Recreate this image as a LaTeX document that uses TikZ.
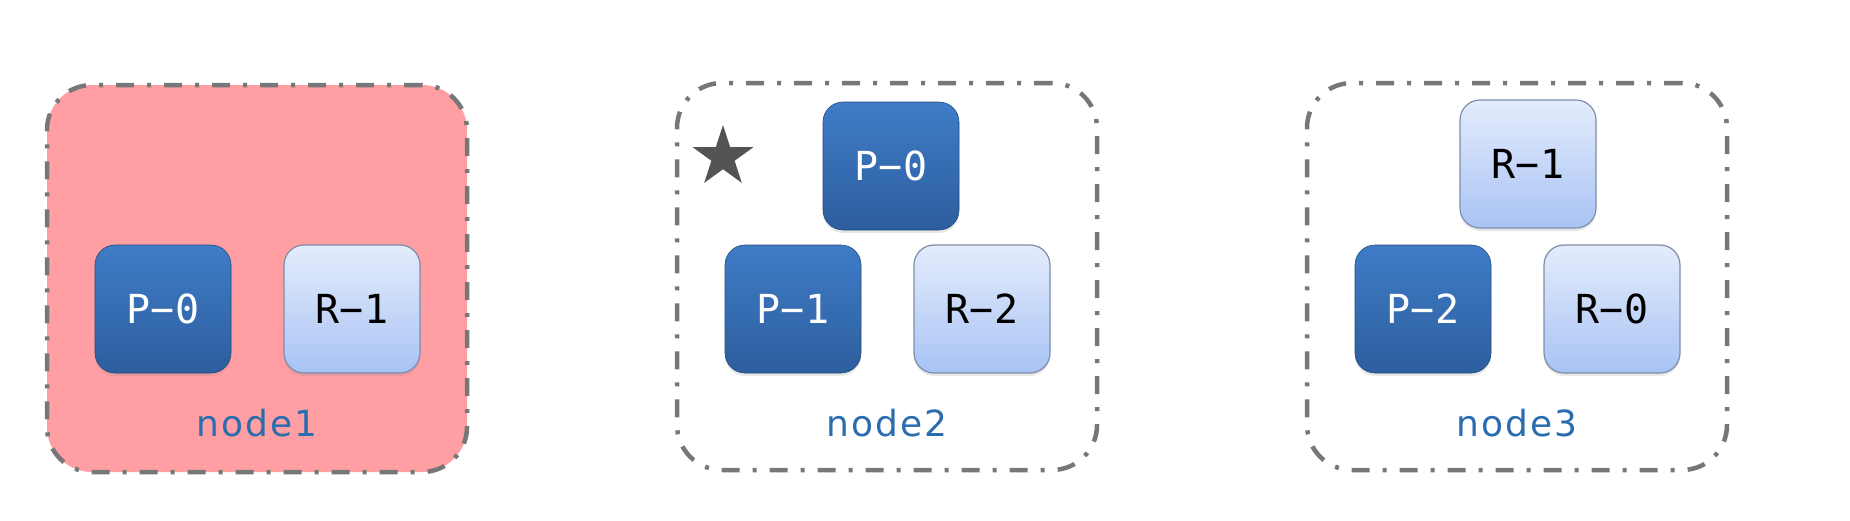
\documentclass[tikz,border=0pt]{standalone}
\usepackage{fontspec}
\setmainfont{DejaVu Sans}
\newfontfamily\boxmono{DejaVu Sans Mono}
\newfontfamily\hostfont[LetterSpace=6]{DejaVu Sans}
\usetikzlibrary{shapes.geometric,shadows}
\definecolor{pinkfill}{HTML}{FF9EA3}
\definecolor{dashgray}{HTML}{777777}
\definecolor{darktop}{HTML}{3F7CC7}
\definecolor{darkbot}{HTML}{2D5E9E}
\definecolor{lighttop}{HTML}{E4ECFC}
\definecolor{lightbot}{HTML}{A8C3F4}
\definecolor{lightedge}{HTML}{7D8DAA}
\definecolor{labelblue}{HTML}{2A6DAF}
\definecolor{stargray}{HTML}{545454}
\tikzset{
  container/.style={draw=dashgray, line width=4.5pt,
    dash pattern=on 18pt off 13pt on 4pt off 13pt,
    rounded corners=45pt, minimum width=420pt, minimum height=387pt,
    inner sep=0pt},
  primary/.style={rounded corners=20pt, minimum width=136pt, minimum height=128pt,
    inner sep=0pt, top color=darktop, bottom color=darkbot,
    draw=darkbot!80!black, line width=0.6pt,
    drop shadow={opacity=0.18, shadow xshift=0pt, shadow yshift=-3pt},
    font=\boxmono\fontsize{40}{40}\selectfont, text=white},
  replica/.style={rounded corners=20pt, minimum width=136pt, minimum height=128pt,
    inner sep=0pt, top color=lighttop, bottom color=lightbot,
    draw=lightedge, line width=1.2pt,
    drop shadow={opacity=0.18, shadow xshift=0pt, shadow yshift=-3pt},
    font=\boxmono\fontsize{40}{40}\selectfont, text=black},
  hostlabel/.style={font=\hostfont\fontsize{36}{36}\selectfont, text=labelblue, inner sep=0pt},
  leader/.style={star, star points=5, star point ratio=2.618, fill=stargray,
    minimum size=64pt, inner sep=0pt}
}
\begin{document}
\begin{tikzpicture}[x=1pt,y=-1pt]
\useasboundingbox (0,0) rectangle (1850,520);
% node1
\node[container, fill=pinkfill] (c1) at (257,278.5) {};
\node[primary] (n1p0) at (163,309) {P−0};
\node[replica] (n1r1) at (352,309) {R−1};
\node[hostlabel] (l1) at (257,423) {node1};
% node2
\node[container] (c2) at (887,276.5) {};
\node[leader] (star2) at (723,157) {};
\node[primary] (n2p0) at (891,166) {P−0};
\node[primary] (n2p1) at (793,309) {P−1};
\node[replica] (n2r2) at (982,309) {R−2};
\node[hostlabel] (l2) at (887,423) {node2};
% node3
\node[container] (c3) at (1517,276.5) {};
\node[replica] (n3r1) at (1528,164) {R−1};
\node[primary] (n3p2) at (1423,309) {P−2};
\node[replica] (n3r0) at (1612,309) {R−0};
\node[hostlabel] (l3) at (1517,423) {node3};
\end{tikzpicture}
\end{document}
